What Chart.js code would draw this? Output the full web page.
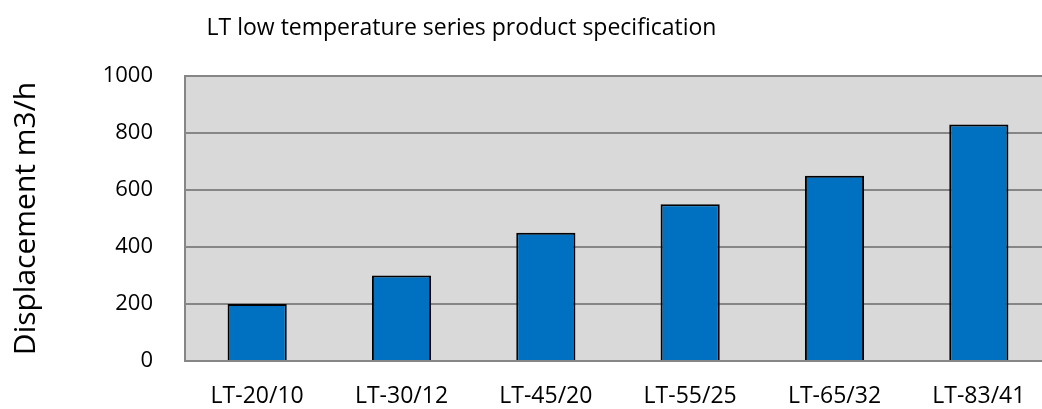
<!DOCTYPE html>
<html>
<head>
<meta charset="utf-8">
<script src="https://cdn.jsdelivr.net/npm/chart.js@4/dist/chart.umd.min.js"></script>
<style>
html,body{margin:0;padding:0;background:#fff;overflow:hidden;width:1042px;height:409px;}
#wrap{width:1100px;height:409px;}
</style>
</head>
<body>
<div id="wrap"><canvas id="c" width="1100" height="409"></canvas></div>
<script>
const categories = ["LT-20/10","LT-30/12","LT-45/20","LT-55/25","LT-65/32","LT-83/41"];
const displacement = [200, 300, 450, 550, 650, 830];
const yTicks = [0, 200, 400, 600, 800, 1000];
const chartTitle = "LT low temperature series product specification";
const yTitle = "Displacement m3/h";

const FONT = "'Open Sans', 'Noto Sans', sans-serif";

const bgPlugin = {
  id: 'plotBg',
  afterLayout(chart) {
    if (chart.titleBlock) { chart.titleBlock.left = 0; chart.titleBlock.right = 923; }
  },
  beforeDraw(chart) {
    const a = chart.chartArea, ctx = chart.ctx;
    ctx.save();
    ctx.fillStyle = '#d9d9d9';
    ctx.fillRect(a.left, a.top, a.right - a.left, a.bottom - a.top);
    ctx.restore();
  }
};

new Chart(document.getElementById('c'), {
  type: 'bar',
  data: {
    labels: categories,
    datasets: [{
      data: displacement,
      backgroundColor: '#0070c0',
      borderColor: '#000000',
      borderWidth: 2,
      barPercentage: 0.41,
      categoryPercentage: 1.0
    }]
  },
  options: {
    responsive: false,
    animation: false,
    layout: { padding: { left: 0, right: 49, top: 0, bottom: 0 } },
    plugins: {
      legend: { display: false },
      tooltip: { enabled: false },
      title: {
        display: true,
        text: chartTitle,
        color: '#000',
        font: { family: FONT, size: 23, weight: 'normal' },
        padding: { top: 15, bottom: 33.4 }
      }
    },
    scales: {
      x: {
        grid: { display: false, drawTicks: false },
        border: { display: true, color: '#868686', width: 2 },
        ticks: { color: '#000', font: { family: FONT, size: 23 }, padding: 22, maxRotation: 0 },
        afterFit(s) { s.height = 48; }
      },
      y: {
        min: 0, max: 1000,
        afterBuildTicks(s) { s.ticks = yTicks.map(v => ({ value: v })); },
        grid: { color: '#868686', lineWidth: 2, drawTicks: false },
        border: { display: true, color: '#868686', width: 2 },
        ticks: { color: '#000', font: { family: FONT, size: 22 }, padding: 32,
                 callback: (v) => String(v) },
        title: {
          display: true, text: yTitle, color: '#000',
          font: { family: FONT, size: 30, weight: 'normal' },
          padding: { top: 8, bottom: 0 }
        },
        afterFit(s) { s.width = 185; }
      }
    }
  },
  plugins: [bgPlugin]
});
</script>
</body>
</html>
